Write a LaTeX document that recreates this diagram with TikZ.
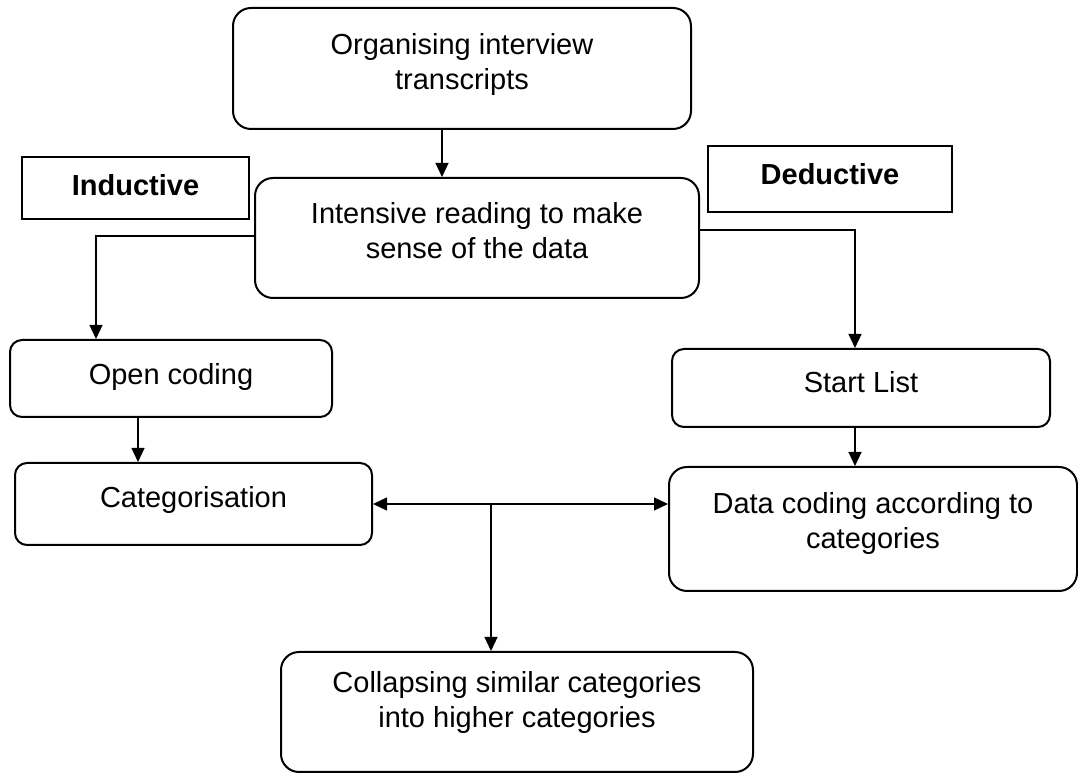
\documentclass[tikz,border=0pt]{standalone}
\usepackage{fontspec}
\setmainfont{Liberation Sans}
\usetikzlibrary{arrows.meta}
\usetikzlibrary{positioning}
\usetikzlibrary{calc}
\tikzstyle{stage}=[draw,line width=1pt,rounded corners=6pt,align=center,text height=11pt,text depth=7pt]
\tikzstyle{tag}=[draw,line width=1pt,font=\fontsize{14.5}{17.5}\selectfont\bfseries,text height=11pt,text depth=4pt]

\begin{document}
\begin{tikzpicture}[
  x=0.5pt, y=-0.5pt,
  font=\fontsize{14.5}{17.5}\selectfont,
  tall/.style={rounded corners=9pt,text height=21pt,text depth=0pt},
  link/.style={line width=0.6pt,-{Triangle[length=7pt,width=6.5pt]}},
  both link/.style={line width=0.6pt,{Triangle[length=7pt,width=6.5pt]}-{Triangle[length=7pt,width=6.5pt]}},
]
\useasboundingbox (0,0) rectangle (1078,774);
  \node[stage,tall,minimum width=229pt,minimum height=60.5pt] (organise) at (462,68.5) {Organising interview\\transcripts};
  \node[tag,minimum width=113.5pt,minimum height=31pt,text depth=3pt] (inductive) at (135.5,188) {Inductive};
  \node[stage,tall,minimum width=222pt,minimum height=60pt,text height=20.5pt] (reading) at (477,238) {Intensive reading to make\\sense of the data};
  \node[tag,minimum width=122pt,minimum height=33pt,text depth=5.5pt] (deductive) at (830,179) {Deductive};
  \node[stage,minimum width=161pt,minimum height=38.5pt,text depth=5pt] (opencode) at (171,378.5) {Open coding};
  \node[stage,minimum width=189pt,minimum height=39pt,text depth=6.5pt] (startlist) at (861,388) {Start List};
  \node[stage,minimum width=178.5pt,minimum height=41pt,text depth=7.5pt] (categ) at (193.5,504) {Categorisation};
  \node[stage,tall,minimum width=204pt,minimum height=62pt,text height=20pt] (datacode) at (873,529) {Data coding according to\\categories};
  \node[stage,tall,minimum width=236pt,minimum height=60pt,text height=16pt] (collapse) at (517,712) {Collapsing similar categories\\into higher categories};

  \draw[link] ([xshift=-10pt]organise.south) -- ([xshift=-10pt]organise.south |- reading.north);
  \draw[link] ([yshift=1pt]reading.west) -| ([xshift=-37.5pt]opencode.north);
  \draw[link] ([yshift=4pt]reading.east) -| ([xshift=-3pt]startlist.north);
  \draw[link] ([xshift=-16.5pt]opencode.south) -- ([xshift=-16.5pt]opencode.south |- categ.north);
  \draw[link] ([xshift=-3pt]startlist.south) -- ([xshift=-3pt]startlist.south |- datacode.north);
  \draw[both link] (categ.east) -- (categ.east -| datacode.west);
  \coordinate (split) at ($(categ.east)!0.4!(categ.east -| datacode.west)$);
  \draw[link] (split) -- (split |- collapse.north);
\end{tikzpicture}
\end{document}
